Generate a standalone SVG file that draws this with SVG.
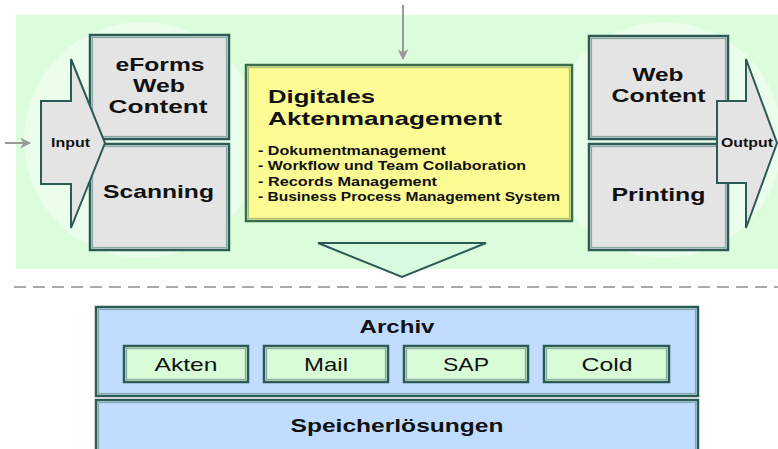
<svg xmlns="http://www.w3.org/2000/svg" width="778" height="449" viewBox="0 0 778 449">
<defs>
<marker id="ah" viewBox="0 0 10 10" refX="9" refY="5" markerWidth="17" markerHeight="11" markerUnits="userSpaceOnUse" orient="auto">
<path d="M0,0 L10,5 L0,10 L3,5 z" fill="#999"/>
</marker>
<style>
.t{font-family:"Liberation Sans",Arial,sans-serif;fill:#111;}
.b{font-weight:bold;}
.big{font-size:19px;font-weight:bold;text-anchor:middle;}
.gray{fill:#e4e4e4;stroke:#2c5a55;stroke-width:2.5;}
.inner{fill:none;stroke:#86aba5;stroke-width:1.2;}
.yel{fill:#fdfb93;stroke:#3a6b4c;stroke-width:2.5;}
.blue{fill:#c0ddff;stroke:#2c5a55;stroke-width:2.5;}
.grn{fill:#d8fcd8;stroke:#2c5a55;stroke-width:2.5;}
.arr{fill:#e4e4e4;stroke:#2c5a55;stroke-width:2;stroke-linejoin:miter;}
.con{stroke:#999;stroke-width:2;fill:none;}
</style>
</defs>
<g id="background">
<rect x="16" y="15" width="762" height="254" fill="#dcfddc"/>
<circle cx="142" cy="140" r="118" fill="#ebfeeb"/>
<circle cx="664" cy="140" r="118" fill="#ebfeeb"/>
</g>
<g id="node-eforms">
<rect class="gray" x="90" y="35" width="139" height="104"/>
<rect class="inner" x="92.5" y="37.5" width="134" height="99"/>
<text class="t big" x="160" y="71" textLength="89" lengthAdjust="spacingAndGlyphs">eForms</text>
<text class="t big" x="159" y="92" textLength="52" lengthAdjust="spacingAndGlyphs">Web</text>
<text class="t big" x="158" y="113" textLength="99" lengthAdjust="spacingAndGlyphs">Content</text>
</g>
<g id="node-scanning">
<rect class="gray" x="90" y="144" width="139" height="106"/>
<rect class="inner" x="92.5" y="146.5" width="134" height="101"/>
<text class="t big" x="158.5" y="198" textLength="111" lengthAdjust="spacingAndGlyphs">Scanning</text>
</g>
<g id="node-input">
<polygon class="arr" points="41,101 71,101 71,59 105,143 71,228 71,184 41,184"/>
<text class="t b" x="70.5" y="147" font-size="13" text-anchor="middle" textLength="39" lengthAdjust="spacingAndGlyphs">Input</text>
</g>
<g id="node-webcontent">
<rect class="gray" x="589" y="36" width="139" height="103"/>
<rect class="inner" x="591.5" y="38.5" width="134" height="98"/>
<text class="t big" x="658" y="81" textLength="51" lengthAdjust="spacingAndGlyphs">Web</text>
<text class="t big" x="658.5" y="102" textLength="94" lengthAdjust="spacingAndGlyphs">Content</text>
</g>
<g id="node-printing">
<rect class="gray" x="589" y="144" width="139" height="106"/>
<rect class="inner" x="591.5" y="146.5" width="134" height="101"/>
<text class="t big" x="658.5" y="201" textLength="94" lengthAdjust="spacingAndGlyphs">Printing</text>
</g>
<g id="node-output">
<polygon class="arr" points="717,101 746,101 746,59 777,143 746,228 746,183 717,183"/>
<text class="t b" x="747" y="147" font-size="13" text-anchor="middle" textLength="52" lengthAdjust="spacingAndGlyphs">Output</text>
</g>
<g id="node-aktenmanagement">
<rect class="yel" x="246" y="65" width="326" height="156"/>
<rect class="inner" x="248.5" y="67.5" width="321" height="151" style="stroke:#a9bf7a"/>
<text class="t b" x="268" y="103" font-size="19" textLength="107" lengthAdjust="spacingAndGlyphs">Digitales</text>
<text class="t b" x="268" y="125" font-size="19" textLength="234" lengthAdjust="spacingAndGlyphs">Aktenmanagement</text>
<text class="t b" x="258" y="155" font-size="12" textLength="188" lengthAdjust="spacingAndGlyphs">- Dokumentmanagement</text>
<text class="t b" x="258" y="170" font-size="12" textLength="268" lengthAdjust="spacingAndGlyphs">- Workflow und Team Collaboration</text>
<text class="t b" x="258" y="186" font-size="12" textLength="179" lengthAdjust="spacingAndGlyphs">- Records Management</text>
<text class="t b" x="258" y="201" font-size="12" textLength="302" lengthAdjust="spacingAndGlyphs">- Business Process Management System</text>
</g>
<g id="node-down">
<polygon points="318,243 486,243 402,277" fill="#d8fbe0" stroke="#2c5a55" stroke-width="2"/>
</g>
<g id="connectors">
<line class="con" x1="403" y1="5" x2="403" y2="59" marker-end="url(#ah)"/>
<line class="con" x1="5" y1="143" x2="30" y2="143" marker-end="url(#ah)"/>
<line x1="14" y1="287" x2="778" y2="287" stroke="#aaa" stroke-width="2" stroke-dasharray="12,7"/>
</g>
<g id="node-archiv">
<rect class="blue" x="96" y="307" width="602" height="89"/>
<rect class="inner" x="98.5" y="309.5" width="597" height="84"/>
<text class="t big" x="397" y="333" textLength="75" lengthAdjust="spacingAndGlyphs">Archiv</text>
</g>
<g id="node-akten">
<rect class="grn" x="124" y="346" width="124" height="36"/>
<rect class="inner" x="126.5" y="348.5" width="119" height="31"/>
<text class="t" x="186" y="371" font-size="19" text-anchor="middle" textLength="63" lengthAdjust="spacingAndGlyphs">Akten</text>
</g>
<g id="node-mail">
<rect class="grn" x="264" y="346" width="124" height="36"/>
<rect class="inner" x="266.5" y="348.5" width="119" height="31"/>
<text class="t" x="326" y="371" font-size="19" text-anchor="middle" textLength="44" lengthAdjust="spacingAndGlyphs">Mail</text>
</g>
<g id="node-sap">
<rect class="grn" x="404" y="346" width="124" height="36"/>
<rect class="inner" x="406.5" y="348.5" width="119" height="31"/>
<text class="t" x="466" y="371" font-size="19" text-anchor="middle" textLength="46" lengthAdjust="spacingAndGlyphs">SAP</text>
</g>
<g id="node-cold">
<rect class="grn" x="544" y="346" width="125" height="36"/>
<rect class="inner" x="546.5" y="348.5" width="120" height="31"/>
<text class="t" x="607" y="371" font-size="19" text-anchor="middle" textLength="51" lengthAdjust="spacingAndGlyphs">Cold</text>
</g>
<g id="node-speicher">
<rect class="blue" x="96" y="400" width="602" height="70"/>
<rect class="inner" x="98.5" y="402.5" width="597" height="65"/>
<text class="t big" x="397" y="432" textLength="213" lengthAdjust="spacingAndGlyphs">Speicherlösungen</text>
</g>
</svg>
